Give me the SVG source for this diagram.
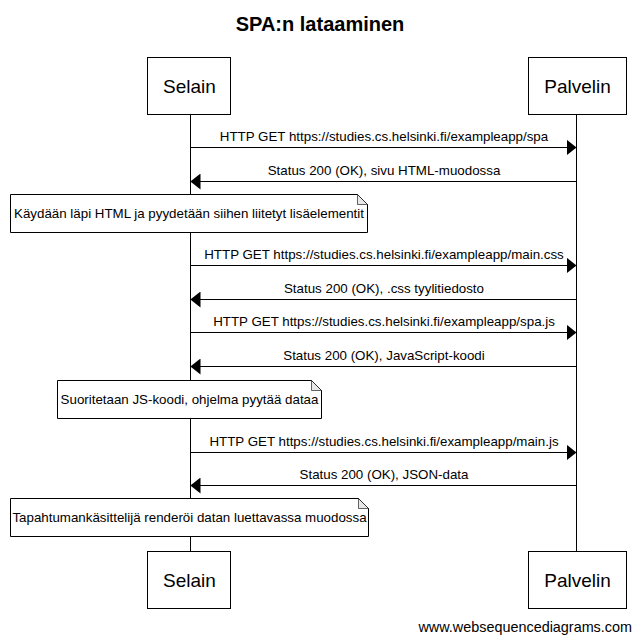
<svg xmlns="http://www.w3.org/2000/svg" width="639" height="643" viewBox="0 0 639 643">
<defs>
<style>
text{font-family:"Liberation Sans",Arial,sans-serif;fill:#000}
.title{font-size:20px;font-weight:bold;text-anchor:middle}
.actor rect{fill:#fff;stroke:#000;stroke-width:1}
.actor text{font-size:19px;text-anchor:middle}
.life{stroke:#000;stroke-width:1}
.msg line{stroke:#000;stroke-width:1;marker-end:url(#ah)}
.msg text{font-size:13.33px;text-anchor:middle}
.note path.box{fill:#fff;stroke:#000;stroke-width:1}
.note path.fold{fill:#e8e8e8;stroke:#000;stroke-width:0.6}
.note text{font-size:13.33px;text-anchor:middle}
.footer{font-size:14.4px;text-anchor:end}
</style>
<marker id="ah" viewBox="0 0 10 16" refX="10" refY="8" markerWidth="10" markerHeight="16" markerUnits="userSpaceOnUse" orient="auto">
<path d="M0,0 L10,8 L0,16 Z" fill="#000"/>
</marker>
</defs>
<rect width="639" height="643" fill="#fff"/>
<text class="title" x="320" y="31">SPA:n lataaminen</text>

<g id="lifelines">
<line class="life" x1="190.5" y1="114" x2="190.5" y2="551"/>
<line class="life" x1="576.5" y1="114" x2="576.5" y2="551"/>
</g>

<g id="selain-top" class="actor"><rect x="147.5" y="57.5" width="83" height="57"/><text x="189.5" y="93">Selain</text></g>
<g id="palvelin-top" class="actor"><rect x="528.5" y="57.5" width="98" height="57"/><text x="577.5" y="93">Palvelin</text></g>
<g id="selain-bottom" class="actor"><rect x="147.5" y="551.5" width="83" height="57"/><text x="189.5" y="587">Selain</text></g>
<g id="palvelin-bottom" class="actor"><rect x="528.5" y="551.5" width="98" height="57"/><text x="577.5" y="587">Palvelin</text></g>

<g id="connectors">
<g class="msg"><line x1="190.5" y1="147.5" x2="576.5" y2="147.5"/><text x="384" y="141">HTTP GET https://studies.cs.helsinki.fi/exampleapp/spa</text></g>
<g class="msg"><line x1="576.5" y1="181.5" x2="190.5" y2="181.5"/><text x="384" y="175">Status 200 (OK), sivu HTML-muodossa</text></g>
<g class="msg"><line x1="190.5" y1="265.5" x2="576.5" y2="265.5"/><text x="384" y="259">HTTP GET https://studies.cs.helsinki.fi/exampleapp/main.css</text></g>
<g class="msg"><line x1="576.5" y1="299.5" x2="190.5" y2="299.5"/><text x="384" y="293">Status 200 (OK), .css tyylitiedosto</text></g>
<g class="msg"><line x1="190.5" y1="332.5" x2="576.5" y2="332.5"/><text x="384" y="326">HTTP GET https://studies.cs.helsinki.fi/exampleapp/spa.js</text></g>
<g class="msg"><line x1="576.5" y1="366.5" x2="190.5" y2="366.5"/><text x="384" y="360">Status 200 (OK), JavaScript-koodi</text></g>
<g class="msg"><line x1="190.5" y1="452.5" x2="576.5" y2="452.5"/><text x="384" y="446">HTTP GET https://studies.cs.helsinki.fi/exampleapp/main.js</text></g>
<g class="msg"><line x1="576.5" y1="485.5" x2="190.5" y2="485.5"/><text x="384" y="479">Status 200 (OK), JSON-data</text></g>
</g>

<g id="note1" class="note">
<path class="box" d="M10.5,194.5 H357.5 L367.5,204.5 V232.5 H10.5 Z"/>
<path class="fold" d="M357.5,194.5 V204.5 H367.5 Z"/>
<text x="189" y="218">Käydään läpi HTML ja pyydetään siihen liitetyt lisäelementit</text>
</g>
<g id="note2" class="note">
<path class="box" d="M57.5,380.5 H311.5 L321.5,390.5 V418.5 H57.5 Z"/>
<path class="fold" d="M311.5,380.5 V390.5 H321.5 Z"/>
<text x="189.5" y="404">Suoritetaan JS-koodi, ohjelma pyytää dataa</text>
</g>
<g id="note3" class="note">
<path class="box" d="M10.5,498.5 H358.5 L368.5,508.5 V536.5 H10.5 Z"/>
<path class="fold" d="M358.5,498.5 V508.5 H368.5 Z"/>
<text x="189.5" y="522">Tapahtumankäsittelijä renderöi datan luettavassa muodossa</text>
</g>

<text class="footer" x="632" y="632">www.websequencediagrams.com</text>
</svg>
